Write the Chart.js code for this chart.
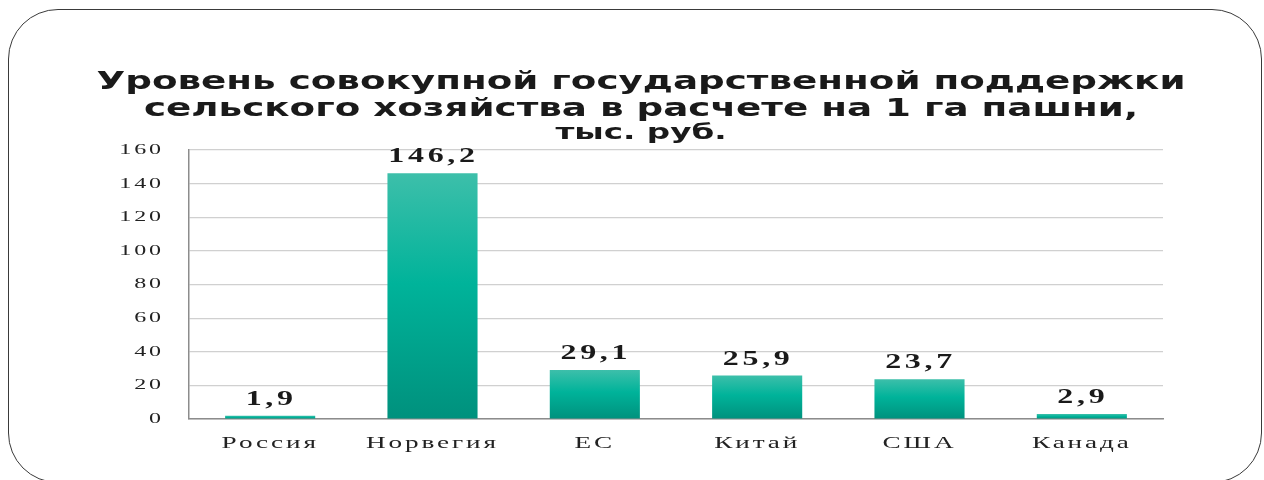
<!DOCTYPE html>
<html>
<head>
<meta charset="utf-8">
<script src="https://cdn.jsdelivr.net/npm/chart.js@4.4.1/dist/chart.umd.min.js"></script>
<style>
html,body{margin:0;padding:0;background:#fff;}
#wrap{position:relative;width:1264px;height:480px;overflow:hidden;}
#frame{position:absolute;left:8px;top:9px;width:1254px;height:474px;border:1.5px solid #3a3a3a;border-radius:50px;box-sizing:border-box;}
canvas{position:absolute;left:0;top:0;}
</style>
</head>
<body>
<div id="wrap">
<div id="frame"></div>
<canvas id="c" width="1264" height="480"></canvas>
</div>
<script>
const categories = ["Россия", "Норвегия", "ЕС", "Китай", "США", "Канада"];
const values = [1.9, 146.2, 29.1, 25.9, 23.7, 2.9];
const yTicks = [0, 20, 40, 60, 80, 100, 120, 140, 160];
const titleLines = ["Уровень совокупной государственной поддержки", "сельского хозяйства в расчете на 1 га пашни,"];
const subtitleText = "тыс. руб.";

// the reference image is horizontally stretched; reproduce with scaled text
const STRETCH = [
  {re: /bold.*Liberation Serif/, sx: 1.6, ls: 2.3},
  {re: /Liberation Serif/, sx: 1.6, ls: 1.8},
  {re: /DejaVu Sans/, sx: 1.553, ls: 0}
];
function styleFor(font){ for (const s of STRETCH) if (s.re.test(font)) return s; return {sx:1, ls:0}; }

const stretchPlugin = {
  id: 'stretchText',
  beforeInit(chart){
    const ctx = chart.ctx;
    const fill = ctx.fillText.bind(ctx);
    const measure = ctx.measureText.bind(ctx);
    ctx.fillText = function(t, x, y){
      const s = styleFor(ctx.font);
      ctx.save();
      ctx.translate(x, y);
      ctx.scale(s.sx, 1);
      ctx.letterSpacing = s.ls + 'px';
      fill(t, 0, 0);
      ctx.restore();
    };
    ctx.measureText = function(t){
      const s = styleFor(ctx.font);
      const prev = ctx.letterSpacing;
      ctx.letterSpacing = s.ls + 'px';
      const r = measure(t);
      ctx.letterSpacing = prev;
      return {width: r.width * s.sx, actualBoundingBoxAscent: r.actualBoundingBoxAscent, actualBoundingBoxDescent: r.actualBoundingBoxDescent};
    };
  }
};

const valueLabels = {
  id: 'valueLabels',
  afterDatasetsDraw(chart){
    const ctx = chart.ctx;
    const meta = chart.getDatasetMeta(0);
    ctx.save();
    ctx.font = 'bold 20px "Liberation Serif"';
    ctx.fillStyle = '#1a1a1a';
    ctx.textAlign = 'center';
    ctx.textBaseline = 'bottom';
    meta.data.forEach((bar, i) => {
      const txt = values[i].toFixed(1).replace('.', ',');
      ctx.fillText(txt, bar.x + 1, bar.y - 6);
    });
    ctx.restore();
  }
};

function barGradient(context){
  const chart = context.chart;
  const area = chart.chartArea;
  const yScale = chart.scales.y;
  if (!area || !yScale) return '#00b39a';
  const top = yScale.getPixelForValue(context.raw);
  const bottom = yScale.getPixelForValue(0);
  if (!isFinite(top) || !isFinite(bottom) || bottom - top < 1) return '#1db39f';
  const g = chart.ctx.createLinearGradient(0, top, 0, bottom);
  g.addColorStop(0, '#3dbfaa');
  g.addColorStop(0.45, '#00b39a');
  g.addColorStop(1, '#00917d');
  return g;
}

new Chart(document.getElementById('c').getContext('2d'), {
  type: 'bar',
  data: {
    labels: categories,
    datasets: [{
      data: values,
      backgroundColor: barGradient,
      borderWidth: 0,
      categoryPercentage: 1,
      barPercentage: 0.555
    }]
  },
  options: {
    responsive: false,
    animation: false,
    events: [],
    layout: {padding: {left: 119, right: 101, top: 0, bottom: 0}},
    plugins: {
      legend: {display: false},
      tooltip: {enabled: false},
      title: {
        display: true,
        text: titleLines,
        color: '#1a1a1a',
        font: {family: 'DejaVu Sans', weight: 'bold', size: 24, lineHeight: 27/24},
        padding: {top: 69, bottom: 0}
      },
      subtitle: {
        display: true,
        text: subtitleText,
        color: '#1a1a1a',
        font: {family: 'DejaVu Sans', weight: 'bold', size: 21, lineHeight: 1},
        padding: {top: 0, bottom: 6}
      }
    },
    scales: {
      x: {
        grid: {display: false, drawTicks: false},
        border: {display: true, color: '#8c8c8c', width: 1.5},
        ticks: {color: '#222', font: {family: 'Liberation Serif', size: 17}, padding: 14, maxRotation: 0, autoSkip: false},
        afterFit(s){ s.height = 61; }
      },
      y: {
        min: 0, max: 160,
        afterBuildTicks(s){ s.ticks = yTicks.map(v => ({value: v})); },
        grid: {color: '#d0d0d0', lineWidth: 1.2, drawTicks: false},
        border: {display: true, color: '#8c8c8c', width: 1.5},
        ticks: {color: '#222', font: {family: 'Liberation Serif', size: 15}, padding: 25},
        afterFit(s){ s.width = 70; }
      }
    }
  },
  plugins: [stretchPlugin, valueLabels]
});
</script>
</body>
</html>
